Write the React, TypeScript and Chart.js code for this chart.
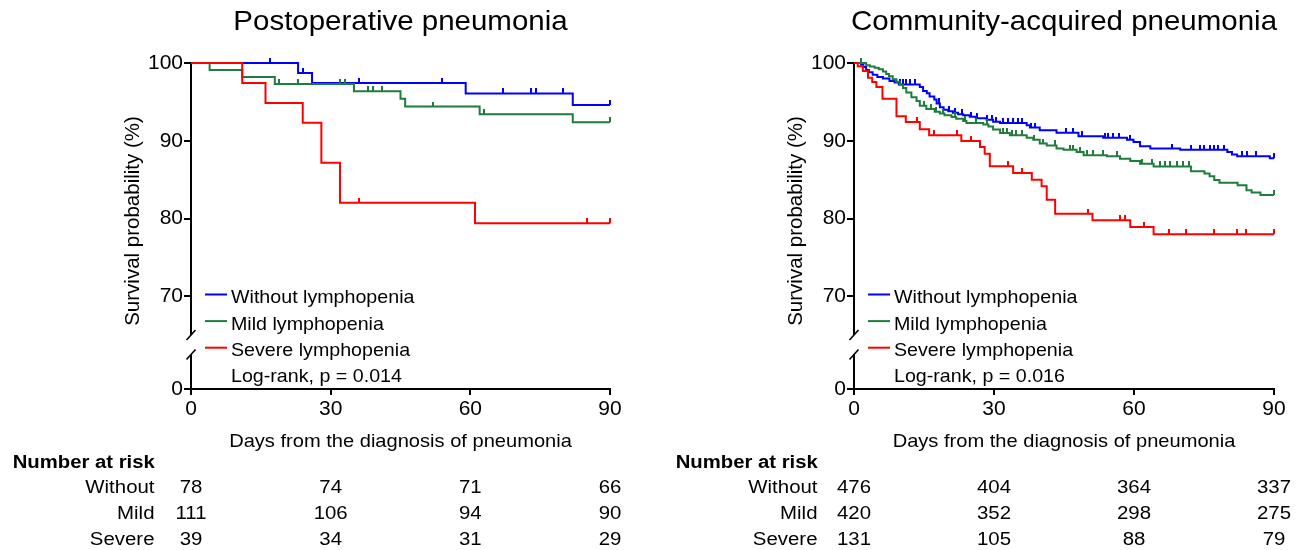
import React, { useEffect, useRef } from "react";
import { Chart, registerables } from "chart.js";
Chart.register(...registerables);

const FAMILY = "'Liberation Sans', Arial, Helvetica, sans-serif";
const SX = 1.08;
const INK = "#000000";

// ---------- shared categories / ticks ----------
const xTicks = [0, 30, 60, 90];
const yTicks = [70, 80, 90, 100];
const yLowTicks = [0];
const groupLabels = ["Without lymphopenia", "Mild lymphopenia", "Severe lymphopenia"];
const riskLabels = ["Without", "Mild", "Severe"];
const riskTimes = [0, 30, 60, 90];
const groupColors = ["#0000ff", "#1e7d3c", "#ff0000"];

// ---------- Postoperative pneumonia ----------
const poTitle = "Postoperative pneumonia";
const poLogRank = "Log-rank, p = 0.014";
const poWithoutT = [0, 23, 26, 59, 82, 90];
const poWithoutS = [100, 98.72, 97.44, 96.09, 94.6, 94.6];
const poWithoutCensor = [17, 24, 36, 54, 67, 73, 74, 80, 90];
const poMildT = [0, 4, 11, 18, 35, 45, 46, 62, 82, 90];
const poMildS = [100, 99.1, 98.2, 97.3, 96.36, 95.4, 94.4, 93.4, 92.4, 92.4];
const poMildCensor = [19, 23, 32, 33, 38, 39, 41, 52, 63, 90];
const poSevereT = [0, 11, 16, 24, 28, 32, 61, 90];
const poSevereS = [100, 97.44, 94.87, 92.31, 87.18, 82.05, 79.4, 79.4];
const poSevereCensor = [36, 85, 90];
const poRiskWithout = [78, 74, 71, 66];
const poRiskMild = [111, 106, 94, 90];
const poRiskSevere = [39, 34, 31, 29];

// ---------- Community-acquired pneumonia ----------
const caTitle = "Community-acquired pneumonia";
const caLogRank = "Log-rank, p = 0.016";
const caWithoutT = [0, 1.5, 2.0, 2.6, 3.2, 4.0, 5.0, 6.2, 7.6, 8.7, 9.6, 14.1, 14.8, 15.6, 16.2, 17.2, 17.7, 18.4, 19.2, 20.2, 21.2, 22.3, 23.4, 24.8, 26.1, 28.4, 29.8, 31.3, 37.0, 37.7, 39.8, 43.4, 48.1, 53.4, 58.5, 59.9, 61.3, 63.5, 69.9, 80.0, 81.0, 82.1, 89.1, 90];
const caWithoutS = [100, 99.8, 99.5, 99.1, 98.8, 98.5, 98.2, 98.0, 97.7, 97.5, 97.25, 96.9, 96.4, 96.1, 95.7, 95.3, 94.8, 94.3, 94.0, 93.8, 93.6, 93.4, 93.3, 93.1, 92.9, 92.7, 92.45, 92.3, 92.0, 91.7, 91.35, 91.05, 90.6, 90.4, 90.15, 89.85, 89.3, 89.0, 88.85, 88.55, 88.25, 88.0, 87.75, 87.75];
const caWithoutCensor = [9.9, 10.5, 11.2, 12.1, 13.0, 18.2, 20.4, 21.6, 23.2, 25.0, 26.4, 28.6, 29.5, 30.4, 32.0, 33.0, 34.1, 35.2, 35.9, 38.0, 38.8, 45.4, 47.0, 48.8, 53.8, 54.5, 55.6, 56.7, 59.2, 68.1, 72.2, 74.2, 75.1, 76.2, 77.2, 78.1, 79.2, 83.2, 84.2, 86.2, 90];
const caMildT = [0, 2.6, 3.4, 4.4, 5.3, 6.2, 6.9, 7.5, 8.3, 9.1, 9.8, 10.5, 11.2, 12.3, 13.4, 14.1, 15.5, 17.3, 18.4, 19.4, 20.9, 21.9, 23.4, 24.1, 27.7, 28.8, 29.8, 31.3, 33.4, 37.0, 38.4, 39.8, 41.3, 43.4, 44.9, 47.7, 49.2, 54.2, 57.0, 59.2, 61.3, 64.2, 72.2, 75.1, 76.2, 77.2, 78.3, 82.2, 84.1, 85.2, 87.1, 90];
const caMildS = [100, 99.7, 99.55, 99.4, 99.2, 98.9, 98.6, 98.3, 97.9, 97.6, 97.2, 96.8, 96.2, 95.6, 95.1, 94.5, 94.1, 93.75, 93.5, 93.3, 93.05, 92.85, 92.55, 92.3, 92.1, 91.85, 91.45, 91.0, 90.7, 90.4, 90.15, 89.65, 89.4, 89.0, 88.85, 88.55, 88.15, 88.0, 87.7, 87.4, 87.05, 86.7, 86.1, 85.8, 85.45, 84.95, 84.6, 84.3, 83.65, 83.35, 83.05, 83.05];
const caMildCensor = [1.5, 15.1, 16.4, 17.6, 19.1, 21.6, 23.7, 26.2, 28.4, 32.0, 32.7, 33.8, 34.8, 35.9, 38.6, 40.6, 43.1, 46.3, 47.0, 48.4, 49.9, 51.3, 53.4, 56.3, 61.7, 63.8, 65.6, 66.7, 67.8, 69.2, 70.6, 71.7, 90];
const caSevereT = [0, 0.8, 1.9, 3.0, 3.9, 4.8, 6.1, 9.1, 11.1, 14.1, 16.1, 23.0, 27.0, 28.0, 29.1, 34.1, 38.1, 40.2, 41.3, 43.1, 51.1, 59.2, 64.2, 90];
const caSevereS = [100, 99.58, 98.98, 98.12, 97.56, 96.92, 95.42, 93.15, 92.42, 91.48, 90.71, 89.98, 89.21, 88.35, 86.72, 85.86, 85.01, 84.15, 82.44, 80.64, 79.78, 78.92, 78.0, 78.0];
const caSevereCensor = [13.4, 17.2, 22.1, 25.0, 33.0, 36.1, 50.2, 57.0, 58.1, 62.2, 67.4, 71.2, 77.2, 82.1, 84.1, 90];
const caRiskWithout = [476, 404, 364, 337];
const caRiskMild = [420, 352, 298, 275];
const caRiskSevere = [131, 105, 88, 79];

// ---------- panel descriptions built from the arrays ----------
type Series = { T: number[]; S: number[]; C: number[] };
type PanelDef = {
  title: string;
  logRank: string;
  series: Series[];
  risk: number[][];
  axisWidth: number;
  padRight: number;
};

const panels: PanelDef[] = [
  {
    title: poTitle,
    logRank: poLogRank,
    series: [
      { T: poWithoutT, S: poWithoutS, C: poWithoutCensor },
      { T: poMildT, S: poMildS, C: poMildCensor },
      { T: poSevereT, S: poSevereS, C: poSevereCensor },
    ],
    risk: [poRiskWithout, poRiskMild, poRiskSevere],
    axisWidth: 191,
    padRight: 47,
  },
  {
    title: caTitle,
    logRank: caLogRank,
    series: [
      { T: caWithoutT, S: caWithoutS, C: caWithoutCensor },
      { T: caMildT, S: caMildS, C: caMildCensor },
      { T: caSevereT, S: caSevereS, C: caSevereCensor },
    ],
    risk: [caRiskWithout, caRiskMild, caRiskSevere],
    axisWidth: 197,
    padRight: 40,
  },
];

function stepValue(T: number[], S: number[], t: number) {
  let v = S[0];
  for (let i = 0; i < T.length; i++) if (T[i] <= t) v = S[i];
  return v;
}

function tickImage(color: string) {
  const c = document.createElement("canvas");
  c.width = 2;
  c.height = 10;
  const g = c.getContext("2d")!;
  g.fillStyle = color;
  g.fillRect(0, 0, 2, 5);
  return c;
}

function txt(
  ctx: CanvasRenderingContext2D,
  s: string,
  x: number,
  y: number,
  font: string,
  align: CanvasTextAlign
) {
  ctx.save();
  ctx.font = font;
  ctx.fillStyle = INK;
  ctx.textAlign = align;
  ctx.textBaseline = "alphabetic";
  ctx.translate(x, y);
  ctx.scale(SX, 1);
  ctx.fillText(s, 0, 0);
  ctx.restore();
}

function decorPlugin(p: PanelDef) {
  return {
    id: "decor",
    beforeDatasetsDraw(chart: any) {
      const ctx: CanvasRenderingContext2D = chart.ctx;
      const ca = chart.chartArea;
      const yUp = chart.scales.y;
      const ax = ca.left;
      const brk = yUp.bottom;
      const gapTop = brk - 9.5;
      const gapBot = brk + 10;
      ctx.save();
      ctx.strokeStyle = INK;
      ctx.lineWidth = 2;
      ctx.beginPath();
      ctx.moveTo(ax, ca.top - 1);
      ctx.lineTo(ax, gapTop);
      ctx.moveTo(ax, gapBot);
      ctx.lineTo(ax, ca.bottom);
      ctx.stroke();
      ctx.lineWidth = 1.6;
      ctx.beginPath();
      for (const yy of [gapTop, gapBot]) {
        ctx.moveTo(ax - 4.5, yy + 5);
        ctx.lineTo(ax + 4.5, yy - 5);
      }
      ctx.stroke();
      ctx.restore();
    },
    afterDraw(chart: any) {
      const ctx: CanvasRenderingContext2D = chart.ctx;
      const ca = chart.chartArea;
      const xs = chart.scales.x;
      const cx = (ca.left + ca.right) / 2;

      txt(ctx, p.title, cx, 30, `27.3px ${FAMILY}`, "center");

      ctx.save();
      ctx.translate(ca.left - 52, ca.top + 158);
      ctx.rotate(-Math.PI / 2);
      ctx.font = `20.5px ${FAMILY}`;
      ctx.fillStyle = INK;
      ctx.textAlign = "center";
      ctx.textBaseline = "alphabetic";
      ctx.fillText("Survival probability (%)", 0, 0);
      ctx.restore();

      txt(ctx, "Days from the diagnosis of pneumonia", cx, ca.bottom + 58, `18.6px ${FAMILY}`, "center");

      // legend
      for (let i = 0; i < 3; i++) {
        const ly = ca.top + 231.5 + i * 26.6;
        ctx.save();
        ctx.strokeStyle = groupColors[i];
        ctx.lineWidth = 2;
        ctx.beginPath();
        ctx.moveTo(ca.left + 14, ly);
        ctx.lineTo(ca.left + 36, ly);
        ctx.stroke();
        ctx.restore();
        txt(ctx, groupLabels[i], ca.left + 40, ly + 8.5, `18.2px ${FAMILY}`, "left");
      }
      txt(ctx, p.logRank, ca.left + 40, ca.top + 318.5, `18.2px ${FAMILY}`, "left");

      // number at risk
      txt(ctx, "Number at risk", ca.left - 178.3, ca.bottom + 78.5, `bold 18.8px ${FAMILY}`, "left");
      for (let r = 0; r < 3; r++) {
        const by = ca.bottom + 104 + r * 26;
        txt(ctx, riskLabels[r], ca.left - 36.5, by, `18.9px ${FAMILY}`, "right");
        for (let j = 0; j < riskTimes.length; j++) {
          txt(ctx, String(p.risk[r][j]), xs.getPixelForValue(riskTimes[j]), by, `18.9px ${FAMILY}`, "center");
        }
      }
    },
  };
}

function buildConfig(p: PanelDef): any {
  const datasets: any[] = [];
  p.series.forEach((s, i) => {
    datasets.push({
      label: groupLabels[i],
      data: s.T.map((t, k) => ({ x: t, y: s.S[k] })),
      borderColor: groupColors[i],
      backgroundColor: groupColors[i],
      borderWidth: 2,
      stepped: true,
      pointRadius: 0,
      fill: false,
      clip: false,
      yAxisID: "y",
      order: 3 - i,
    });
  });
  p.series.forEach((s, i) => {
    datasets.push({
      label: groupLabels[i] + " (censored)",
      data: s.C.map((t) => ({ x: t, y: stepValue(s.T, s.S, t) })),
      showLine: false,
      pointStyle: tickImage(groupColors[i]),
      pointRadius: 3,
      borderColor: groupColors[i],
      backgroundColor: groupColors[i],
      clip: false,
      yAxisID: "y",
      order: 3 - i,
    });
  });

  const tickFont = { family: FAMILY, size: 21 };
  const gridOpts = (len: number) => ({
    display: true,
    drawOnChartArea: false,
    drawTicks: true,
    tickLength: len,
    color: INK,
    lineWidth: 2,
  });

  return {
    type: "line",
    data: { datasets },
    options: {
      responsive: false,
      animation: false,
      events: [],
      layout: { padding: { top: 63, right: p.padRight, bottom: 121, left: 0 } },
      plugins: { legend: { display: false }, tooltip: { enabled: false }, title: { display: false } },
      scales: {
        x: {
          type: "linear",
          position: "bottom",
          min: 0,
          max: 90,
          afterBuildTicks: (sc: any) => {
            sc.ticks = xTicks.map((v) => ({ value: v }));
          },
          grid: gridOpts(6),
          border: { display: true, color: INK, width: 2 },
          ticks: { font: tickFont, color: INK, padding: 2, maxRotation: 0, autoSkip: false },
          afterFit: (sc: any) => {
            sc.height = 40;
          },
        },
        y: {
          type: "linear",
          position: "left",
          stack: "brk",
          stackWeight: 281.5,
          weight: 1,
          min: 63.82,
          max: 100,
          afterBuildTicks: (sc: any) => {
            sc.ticks = yTicks.map((v) => ({ value: v }));
          },
          grid: gridOpts(7),
          border: { display: false },
          ticks: { font: tickFont, color: INK, padding: 1, autoSkip: false },
          afterFit: (sc: any) => {
            sc.width = p.axisWidth;
          },
        },
        y0: {
          type: "linear",
          position: "left",
          stack: "brk",
          stackWeight: 44.5,
          weight: 0,
          min: 0,
          max: 5,
          afterBuildTicks: (sc: any) => {
            sc.ticks = yLowTicks.map((v) => ({ value: v }));
          },
          grid: gridOpts(7),
          border: { display: false },
          ticks: { font: tickFont, color: INK, padding: 1, autoSkip: false },
          afterFit: (sc: any) => {
            sc.width = p.axisWidth;
          },
        },
      },
    },
    plugins: [decorPlugin(p)],
  };
}

function Panel({ def, left }: { def: PanelDef; left: number }) {
  const ref = useRef<HTMLCanvasElement>(null);
  useEffect(() => {
    const chart = new Chart(ref.current!, buildConfig(def));
    return () => chart.destroy();
  }, [def]);
  return (
    <canvas
      ref={ref}
      width={657}
      height={550}
      style={{ position: "absolute", left, top: 0, width: 657, height: 550, display: "block" }}
    />
  );
}

export default function App() {
  return (
    <div style={{ position: "absolute", left: 0, top: 0, width: 1314, height: 550, background: "#ffffff", overflow: "hidden" }}>
      <Panel def={panels[0]} left={0} />
      <Panel def={panels[1]} left={657} />
    </div>
  );
}
